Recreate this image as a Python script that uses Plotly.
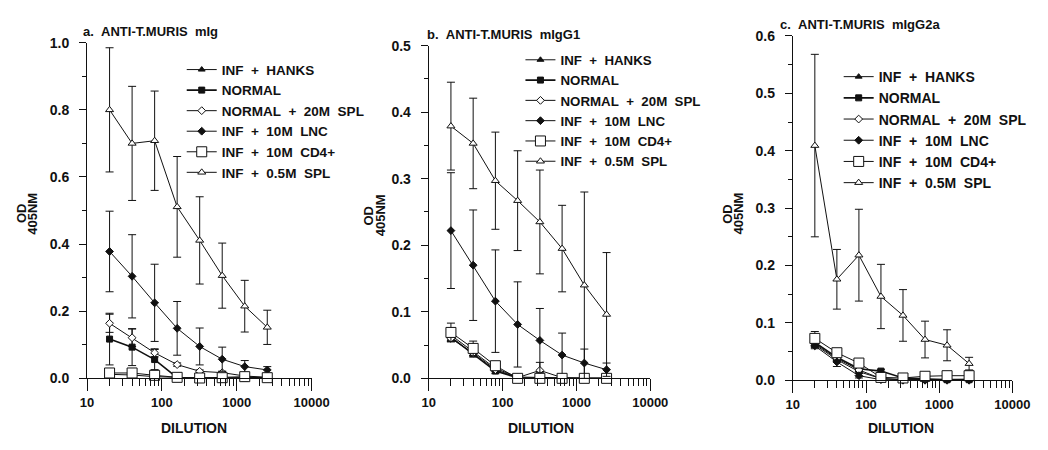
import plotly.graph_objects as go

# ---------------- data ----------------
DILUTION = [20, 40, 80, 160, 320, 640, 1280, 2560]
SERIES = ["INF + HANKS", "NORMAL", "NORMAL + 20M SPL", "INF + 10M LNC", "INF + 10M CD4+", "INF + 0.5M SPL"]
X_TICKS = [10, 100, 1000, 10000]
X_MINOR = [20, 30, 40, 50, 60, 70, 80, 90, 200, 300, 400, 500, 600, 700, 800, 900,
           2000, 3000, 4000, 5000, 6000, 7000, 8000, 9000]
PANEL_TITLES = ["a. ANTI-T.MURIS mIg", "b. ANTI-T.MURIS mIgG1", "c. ANTI-T.MURIS mIgG2a"]

# panel a : mIg
A_HANKS = [0.012, 0.010, 0.005, 0.002, 0.001, 0.001, 0.002, 0.003]
A_HANKS_ERR = [0.004, 0.004, 0.003, 0.002, 0.001, 0.001, 0.001, 0.001]
A_NORMAL = [0.117, 0.093, 0.056, 0.002, 0.001, 0.000, 0.000, 0.000]
A_NORMAL_ERR = [0.077, 0.055, 0.030, 0.002, 0.001, 0.000, 0.000, 0.000]
A_NSPL = [0.164, 0.121, 0.076, 0.041, 0.021, 0.017, 0.007, 0.003]
A_NSPL_ERR = [0.027, 0.026, 0.012, 0.005, 0.004, 0.004, 0.003, 0.002]
A_LNC = [0.378, 0.304, 0.225, 0.149, 0.095, 0.057, 0.035, 0.025]
A_LNC_ERR = [0.120, 0.124, 0.115, 0.080, 0.055, 0.036, 0.018, 0.010]
A_CD4 = [0.016, 0.016, 0.009, 0.003, 0.001, 0.002, 0.005, 0.002]
A_CD4_ERR = [0.003, 0.003, 0.003, 0.002, 0.001, 0.001, 0.002, 0.001]
A_SPL = [0.800, 0.700, 0.708, 0.511, 0.411, 0.306, 0.215, 0.152]
A_SPL_ERR = [0.185, 0.170, 0.148, 0.150, 0.130, 0.097, 0.077, 0.051]

# panel b : mIgG1
B_HANKS = [0.065, 0.040, 0.015, 0.002, 0.001, 0.000, 0.000, 0.000]
B_HANKS_ERR = [0.008, 0.006, 0.004, 0.002, 0.001, 0.000, 0.000, 0.000]
B_NORMAL = [0.062, 0.037, 0.011, 0.001, 0.000, 0.000, 0.000, 0.000]
B_NORMAL_ERR = [0.006, 0.005, 0.004, 0.001, 0.000, 0.000, 0.000, 0.000]
B_NSPL = [0.060, 0.038, 0.013, 0.001, 0.012, 0.001, 0.000, 0.000]
B_NSPL_ERR = [0.005, 0.004, 0.003, 0.001, 0.012, 0.001, 0.000, 0.000]
B_LNC = [0.222, 0.170, 0.116, 0.081, 0.057, 0.035, 0.023, 0.013]
B_LNC_ERR = [0.087, 0.083, 0.077, 0.064, 0.048, 0.033, 0.021, 0.010]
B_CD4 = [0.069, 0.045, 0.019, 0.000, 0.000, 0.000, 0.000, 0.000]
B_CD4_ERR = [0.014, 0.011, 0.005, 0.000, 0.000, 0.000, 0.000, 0.000]
B_SPL = [0.379, 0.353, 0.297, 0.267, 0.235, 0.195, 0.140, 0.096]
B_SPL_ERR = [0.066, 0.068, 0.073, 0.075, 0.078, 0.065, 0.140, 0.093]

# panel c : mIgG2a
C_HANKS = [0.062, 0.036, 0.015, 0.003, 0.001, 0.001, 0.000, 0.001]
C_HANKS_ERR = [0.005, 0.004, 0.003, 0.002, 0.001, 0.001, 0.000, 0.001]
C_NORMAL = [0.066, 0.040, 0.020, 0.016, 0.004, 0.002, 0.001, 0.001]
C_NORMAL_ERR = [0.006, 0.005, 0.004, 0.003, 0.002, 0.001, 0.001, 0.001]
C_NSPL = [0.064, 0.038, 0.018, 0.003, 0.001, 0.001, 0.002, 0.002]
C_NSPL_ERR = [0.005, 0.004, 0.003, 0.002, 0.001, 0.001, 0.001, 0.001]
C_LNC = [0.060, 0.032, 0.008, 0.001, 0.000, 0.000, 0.000, 0.000]
C_LNC_ERR = [0.005, 0.008, 0.004, 0.001, 0.000, 0.000, 0.000, 0.000]
C_CD4 = [0.073, 0.048, 0.030, 0.005, 0.004, 0.007, 0.008, 0.008]
C_CD4_ERR = [0.012, 0.006, 0.005, 0.002, 0.002, 0.002, 0.002, 0.002]
C_SPL = [0.409, 0.176, 0.218, 0.146, 0.113, 0.071, 0.061, 0.029]
C_SPL_ERR = [0.159, 0.052, 0.080, 0.056, 0.045, 0.032, 0.027, 0.011]

PANEL_A = [(A_HANKS, A_HANKS_ERR), (A_NORMAL, A_NORMAL_ERR), (A_NSPL, A_NSPL_ERR),
           (A_LNC, A_LNC_ERR), (A_CD4, A_CD4_ERR), (A_SPL, A_SPL_ERR)]
PANEL_B = [(B_HANKS, B_HANKS_ERR), (B_NORMAL, B_NORMAL_ERR), (B_NSPL, B_NSPL_ERR),
           (B_LNC, B_LNC_ERR), (B_CD4, B_CD4_ERR), (B_SPL, B_SPL_ERR)]
PANEL_C = [(C_HANKS, C_HANKS_ERR), (C_NORMAL, C_NORMAL_ERR), (C_NSPL, C_NSPL_ERR),
           (C_LNC, C_LNC_ERR), (C_CD4, C_CD4_ERR), (C_SPL, C_SPL_ERR)]

# ---------------- style ----------------
W, H = 1048, 450
FONT = "Liberation Sans, Arial, Helvetica, sans-serif"
INK = "#111111"
STYLES = [
    dict(symbol="triangle-up", size=6, fill=INK, lw=1.0),
    dict(symbol="square", size=6, fill=INK, lw=1.6),
    dict(symbol="diamond", size=6, fill="white", lw=1.0),
    dict(symbol="diamond", size=6, fill=INK, lw=1.0),
    dict(symbol="square", size=10, fill="white", lw=1.0),
    dict(symbol="triangle-up", size=7, fill="white", lw=1.0),
]

# pixel layout of each panel: (left, right, top, bottom), y max, major dtick
PANELS = [
    dict(data=PANEL_A, px=(82, 312, 36, 384), ymax=1.0, dtick=0.2, legend="legend",
         title_xy=(76, 24), ylab_x=(15, 26), ylab_y=213, xlab=(192, 435),
         leg=(179, 48), legfont=13.5),
    dict(data=PANEL_B, px=(432, 659, 39, 384), ymax=0.5, dtick=0.1, legend="legend2",
         title_xy=(428, 27), ylab_x=(370, 382), ylab_y=215, xlab=(547, 435),
         leg=(526, 38), legfont=13.3),
    dict(data=PANEL_C, px=(805, 1030, 29, 386), ymax=0.6, dtick=0.1, legend="legend3",
         title_xy=(790, 17), ylab_x=(738, 749), ylab_y=213, xlab=(916, 435),
         leg=(852, 55), legfont=14),
]

NB = "\u00a0\u00a0"


def spaced(s):
    return s.replace(" ", NB)


fig = go.Figure()
layout = dict(width=W, height=H, margin=dict(l=0, r=0, t=0, b=0),
              paper_bgcolor="white", plot_bgcolor="white",
              font=dict(family=FONT, size=13, color=INK, weight="bold"),
              showlegend=True, annotations=[])

for i, p in enumerate(PANELS):
    n = "" if i == 0 else str(i + 1)
    xa, ya = "x" + n, "y" + n
    l, r, t, b = p["px"]
    for k, (vals, errs) in enumerate(p["data"]):
        st = STYLES[k]
        fig.add_trace(go.Scatter(
            x=DILUTION, y=vals, name=spaced(SERIES[k]), xaxis=xa, yaxis=ya,
            legend=p["legend"], cliponaxis=False, mode="lines+markers",
            line=dict(color=INK, width=st["lw"]),
            marker=dict(symbol=st["symbol"], size=st["size"], color=st["fill"],
                        line=dict(color=INK, width=1)),
            error_y=dict(type="data", array=errs, visible=True, color=INK,
                         thickness=1, width=4),
        ))
    layout["xaxis" + n] = dict(
        domain=[l / W, r / W], anchor=ya, type="log", range=[1, 4],
        tickvals=X_TICKS, ticktext=[str(v) for v in X_TICKS],
        ticks="outside", ticklen=12, tickwidth=1, tickcolor=INK,
        showline=True, linecolor=INK, linewidth=1, showgrid=False, zeroline=False,
        tickfont=dict(family=FONT, size=13, color=INK, weight="bold"),
        minor=dict(tickvals=X_MINOR, ticks="outside", ticklen=7, tickcolor=INK,
                   tickwidth=1, showgrid=False),
    )
    layout["yaxis" + n] = dict(
        domain=[1 - b / H, 1 - t / H], anchor=xa, range=[0, p["ymax"]],
        dtick=p["dtick"], tick0=0, tickformat=".1f",
        ticks="outside", ticklen=7, tickwidth=1, tickcolor=INK,
        showline=True, linecolor=INK, linewidth=1, showgrid=False, zeroline=False,
        ticklabelstandoff=7,
        tickfont=dict(family=FONT, size=14, color=INK, weight="bold"),
        minor=dict(dtick=p["dtick"] / 2, ticks="outside", ticklen=4, tickcolor=INK,
                   tickwidth=1, showgrid=False),
    )
    lx, ly = p["leg"]
    layout[p["legend"]] = dict(
        x=lx / W, y=1 - ly / H, xanchor="left", yanchor="top",
        bgcolor="rgba(0,0,0,0)", borderwidth=0, itemwidth=30,
        font=dict(family=FONT, size=p["legfont"], color=INK, weight="bold"),
        tracegroupgap=0,
    )
    tx, ty = p["title_xy"]
    layout["annotations"].append(dict(
        text=spaced(PANEL_TITLES[i]),
        xref="paper", yref="paper", x=tx / W, y=1 - ty / H,
        xanchor="left", yanchor="middle", showarrow=False,
        font=dict(family=FONT, size=13, color=INK, weight="bold")))
    layout["annotations"].append(dict(
        text="OD", xref="paper", yref="paper", x=p["ylab_x"][0] / W, y=1 - p["ylab_y"] / H,
        xanchor="center", yanchor="middle", textangle=-90, showarrow=False,
        font=dict(family=FONT, size=13, color=INK, weight="bold")))
    layout["annotations"].append(dict(
        text="405NM", xref="paper", yref="paper", x=p["ylab_x"][1] / W, y=1 - p["ylab_y"] / H,
        xanchor="center", yanchor="middle", textangle=-90, showarrow=False,
        font=dict(family=FONT, size=13, color=INK, weight="bold")))
    layout["annotations"].append(dict(
        text="DILUTION", xref="paper", yref="paper", x=p["xlab"][0] / W, y=1 - p["xlab"][1] / H,
        xanchor="center", yanchor="middle", showarrow=False,
        font=dict(family=FONT, size=14, color=INK, weight="bold")))

fig.update_layout(**layout)
fig.write_html("out.html", config={"responsive": False, "displayModeBar": False},
               post_script="document.body.style.margin='0px';document.body.style.overflow='hidden';")
